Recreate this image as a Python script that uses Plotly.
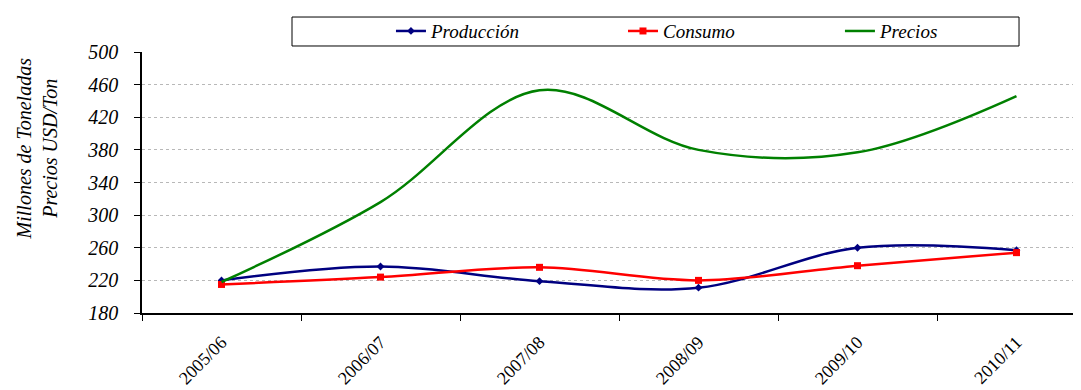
import plotly.graph_objects as go

campanas = ["2005/06", "2006/07", "2007/08", "2008/09", "2009/10", "2010/11"]
produccion = [220, 237, 219, 211, 260, 257]
consumo = [215, 224, 236, 220, 238, 254]
precios = [218, 316, 453, 380, 377, 446]

fuente = "Liberation Serif"

fig = go.Figure()
fig.add_trace(go.Scatter(x=campanas, y=produccion, name="Producción", mode="lines+markers",
                         legend="legend",
                         line=dict(color="#000080", width=2.5, shape="spline", smoothing=1),
                         marker=dict(symbol="diamond", size=6, color="#000080")))
fig.add_trace(go.Scatter(x=campanas, y=consumo, name="Consumo", mode="lines+markers",
                         legend="legend2",
                         line=dict(color="#ff0000", width=2.5, shape="spline", smoothing=1),
                         marker=dict(symbol="square", size=7, color="#ff0000")))
fig.add_trace(go.Scatter(x=campanas, y=precios, name="Precios", mode="lines",
                         legend="legend3",
                         line=dict(color="#008000", width=2.5, shape="spline", smoothing=1)))

# recuadro de la leyenda
fig.add_shape(type="rect", xref="paper", yref="paper", x0=0.1584, x1=0.9261, y0=1.023, y1=1.134,
              line=dict(color="black", width=1), fillcolor="white", layer="below")

# titulo del eje y
fig.add_annotation(text="Millones de Toneladas<br>Precios USD/Ton", xref="paper", yref="paper",
                   x=-0.111, y=0.63, xanchor="center", yanchor="middle", textangle=-90,
                   showarrow=False, font=dict(family=fuente, size=20, style="italic"))

ley = dict(orientation="h", y=1.08, xanchor="left", yanchor="middle", bgcolor="rgba(0,0,0,0)",
           font=dict(family=fuente, size=19, style="italic"))

fig.update_layout(
    width=1081, height=390,
    margin=dict(l=134, r=0, t=44, b=85),
    plot_bgcolor="white", paper_bgcolor="white",
    font=dict(family=fuente, color="black"),
    showlegend=True,
    legend=dict(ley, x=0.2629),
    legend2=dict(ley, x=0.5079),
    legend3=dict(ley, x=0.7370),
    xaxis=dict(type="category", range=[-0.5, 5.456], tickson="boundaries", ticks="outside",
               ticklen=6, tickcolor="black", showline=True, linecolor="black", linewidth=1.5,
               showgrid=False, tickangle=-45, ticklabelstandoff=10, automargin=False,
               tickfont=dict(family=fuente, size=18)),
    yaxis=dict(range=[180, 500], tick0=180, dtick=40, ticks="outside", ticklen=6,
               tickcolor="black", showline=True, linecolor="black", linewidth=1.5,
               showgrid=True, gridcolor="#b8b8b8", griddash="dot", gridwidth=1, automargin=False,
               ticklabelstandoff=12,
               tickfont=dict(family=fuente, size=20, style="italic")),
)

fig.write_html("out.html")
